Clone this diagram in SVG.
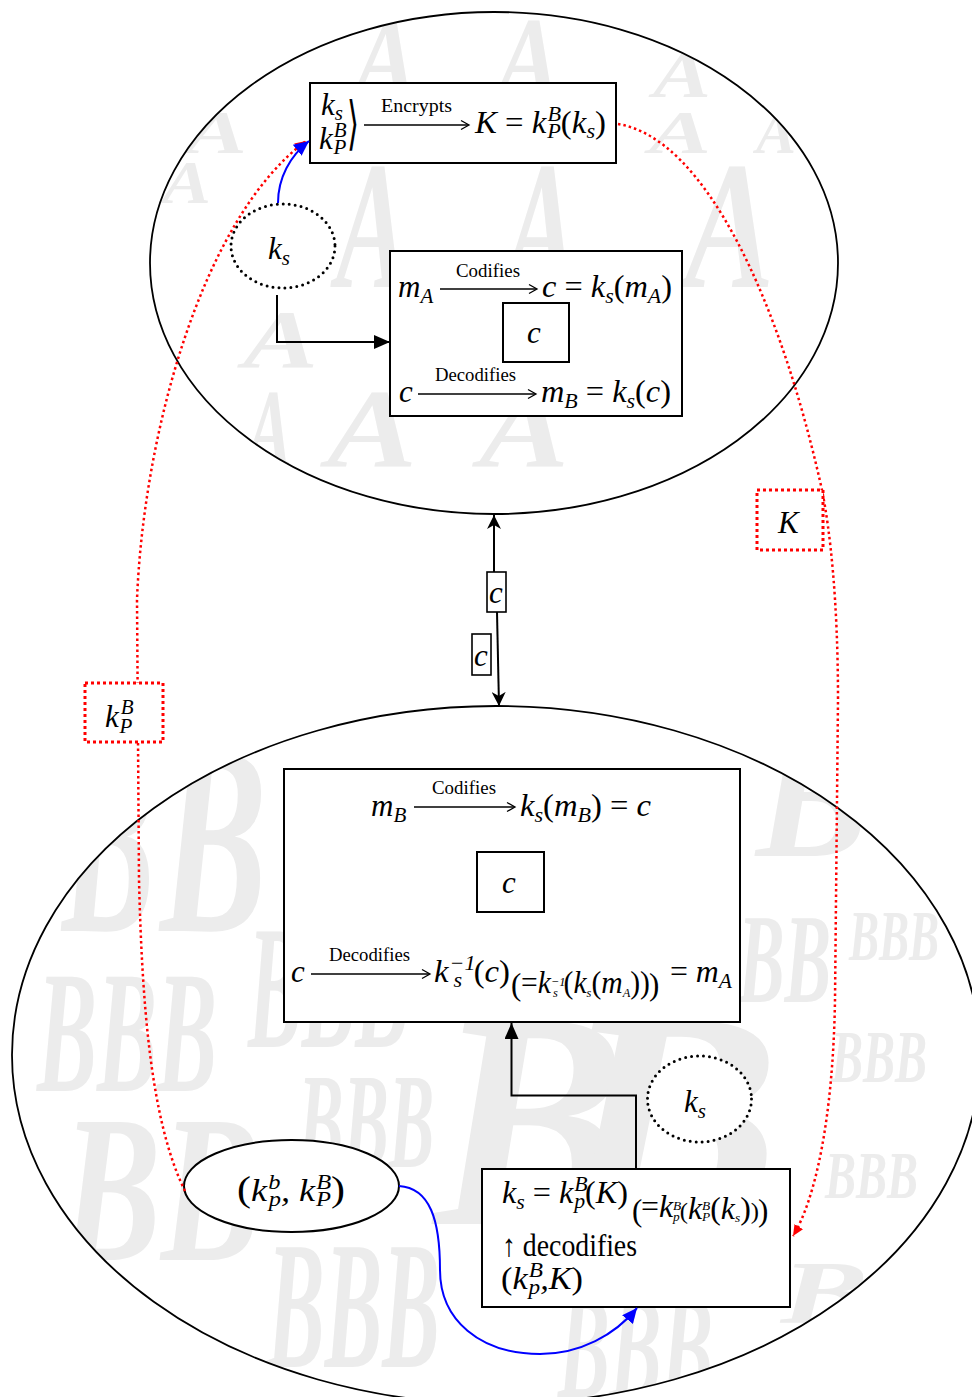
<svg xmlns="http://www.w3.org/2000/svg" width="972" height="1397" viewBox="0 0 972 1397">
<style>
.m{font-family:"Liberation Serif",serif;font-style:italic;font-size:31px;fill:#000}
.u{font-style:normal}
.s{font-size:21px}
.l{font-family:"Liberation Serif",serif;font-size:18px;fill:#000}
.box{fill:#fff;stroke:#000;stroke-width:2}
.ell{fill:none;stroke:#000;stroke-width:1.8}
.dotc{fill:#fff;stroke:#000;stroke-width:3;stroke-dasharray:0 6;stroke-linecap:round}
.red{fill:none;stroke:#f00;stroke-width:2.5;stroke-dasharray:2.5 3}
.redbox{fill:#fff;stroke:#f00;stroke-width:3;stroke-dasharray:3 3}
.wm{font-family:"Liberation Serif",serif;font-weight:bold;font-style:italic;fill:#ececec}
.thin{fill:none;stroke:#000;stroke-width:1.3}
.con{fill:none;stroke:#000;stroke-width:2}
.blue{fill:none;stroke:#00f;stroke-width:2}
</style>
<defs>
<clipPath id="clipTop"><ellipse cx="494" cy="263" rx="344" ry="251"/></clipPath>
<clipPath id="clipBot"><ellipse cx="496" cy="1055" rx="484" ry="349"/></clipPath>
<marker id="aBlk" markerWidth="16" markerHeight="14" refX="16" refY="7" orient="auto" markerUnits="userSpaceOnUse"><path d="M0,0 L16,7 L0,14 z" fill="#000"/></marker>
<marker id="aC" markerWidth="14" markerHeight="14" refX="14" refY="7" orient="auto" markerUnits="userSpaceOnUse"><path d="M0,0 L14,7 L0,14 L4,7 z" fill="#000"/></marker>
<marker id="aBlue" markerWidth="15" markerHeight="14" refX="15" refY="7" orient="auto" markerUnits="userSpaceOnUse"><path d="M0,0 L15,7 L0,14 z" fill="#00f"/></marker>
<marker id="aRed" markerWidth="11" markerHeight="10" refX="11" refY="5" orient="auto" markerUnits="userSpaceOnUse"><path d="M0,0 L11,5 L0,10 z" fill="#f00"/></marker>
</defs>
<rect width="972" height="1397" fill="#fff"/>

<g id="watermark-top" clip-path="url(#clipTop)">
<text class="wm" x="354" y="97" font-size="117" textLength="63" lengthAdjust="spacingAndGlyphs">A</text>
<text class="wm" x="497" y="97" font-size="117" textLength="63" lengthAdjust="spacingAndGlyphs">A</text>
<text class="wm" x="653" y="97" font-size="67" textLength="58" lengthAdjust="spacingAndGlyphs">A</text>
<text class="wm" x="185" y="153" font-size="61" textLength="62" lengthAdjust="spacingAndGlyphs">A</text>
<text class="wm" x="649" y="153" font-size="61" textLength="62" lengthAdjust="spacingAndGlyphs">A</text>
<text class="wm" x="756" y="153" font-size="61" textLength="40" lengthAdjust="spacingAndGlyphs">A</text>
<text class="wm" x="162" y="203" font-size="61" textLength="49" lengthAdjust="spacingAndGlyphs">A</text>
<text class="wm" x="336" y="287" font-size="182" textLength="72" lengthAdjust="spacingAndGlyphs">A</text>
<text class="wm" x="506" y="287" font-size="182" textLength="71" lengthAdjust="spacingAndGlyphs">A</text>
<text class="wm" x="685" y="287" font-size="182" textLength="89" lengthAdjust="spacingAndGlyphs">A</text>
<text class="wm" x="243" y="367" font-size="82" textLength="75" lengthAdjust="spacingAndGlyphs">A</text>
<text class="wm" x="247" y="467" font-size="112" textLength="45" lengthAdjust="spacingAndGlyphs">A</text>
<text class="wm" x="327" y="467" font-size="112" textLength="90" lengthAdjust="spacingAndGlyphs">A</text>
<text class="wm" x="479" y="467" font-size="112" textLength="90" lengthAdjust="spacingAndGlyphs">A</text>
</g>

<g id="watermark-bottom" clip-path="url(#clipBot)">
<text class="wm" x="62" y="931" font-size="270" textLength="93" lengthAdjust="spacingAndGlyphs">B</text>
<text class="wm" x="160" y="931" font-size="270" textLength="107" lengthAdjust="spacingAndGlyphs">B</text>
<text class="wm" x="756" y="856" font-size="170" textLength="112" lengthAdjust="spacingAndGlyphs">B</text>
<text class="wm" x="849" y="960" font-size="72" textLength="90" lengthAdjust="spacingAndGlyphs">BBB</text>
<text class="wm" x="738" y="1002" font-size="127" textLength="93" lengthAdjust="spacingAndGlyphs">BB</text>
<text class="wm" x="37" y="1091" font-size="174" textLength="180" lengthAdjust="spacingAndGlyphs">BBB</text>
<text class="wm" x="248" y="1047" font-size="176" textLength="161" lengthAdjust="spacingAndGlyphs">BBB</text>
<text class="wm" x="831" y="1082" font-size="74" textLength="96" lengthAdjust="spacingAndGlyphs">BBB</text>
<text class="wm" x="434" y="1224" font-size="309" textLength="192" lengthAdjust="spacingAndGlyphs">B</text>
<text class="wm" x="558" y="1211" font-size="290" textLength="223" lengthAdjust="spacingAndGlyphs">B</text>
<text class="wm" x="298" y="1167" font-size="135" textLength="136" lengthAdjust="spacingAndGlyphs">BBB</text>
<text class="wm" x="62" y="1260" font-size="209" textLength="198" lengthAdjust="spacingAndGlyphs">BB</text>
<text class="wm" x="825" y="1198" font-size="68" textLength="93" lengthAdjust="spacingAndGlyphs">BBB</text>
<text class="wm" x="267" y="1367" font-size="182" textLength="173" lengthAdjust="spacingAndGlyphs">BBB</text>
<text class="wm" x="558" y="1397" font-size="147" textLength="155" lengthAdjust="spacingAndGlyphs">BBB</text>
<text class="wm" x="781" y="1322" font-size="88" textLength="87" lengthAdjust="spacingAndGlyphs">B</text>
</g>

<g id="party-A">
<ellipse class="ell" cx="494" cy="263" rx="344" ry="251"/>
</g>
<g id="party-B">
<ellipse class="ell" cx="496" cy="1055" rx="484" ry="349"/>
</g>

<g id="node-encrypt">
<rect class="box" x="310" y="83" width="306" height="80"/>
<text class="m" x="321" y="115">k<tspan class="s" dy="5">s</tspan></text>
<text class="m" x="319" y="149">k<tspan class="s" dx="1" dy="-12">B</tspan><tspan class="s" dx="-13" dy="17">P</tspan></text>
<text x="347" y="143" font-family="DejaVu Sans" font-size="58" textLength="12" lengthAdjust="spacingAndGlyphs">⟩</text>
<line class="thin" x1="364" y1="125" x2="468" y2="125"/>
<path class="thin" d="M461,120.5 L469,125 L461,129.5"/>
<text class="l" x="381" y="112" textLength="71" lengthAdjust="spacingAndGlyphs">Encrypts</text>
<text class="m" x="475" y="133" textLength="131" lengthAdjust="spacingAndGlyphs">K <tspan class="u">=</tspan> k<tspan class="s" dx="1" dy="-12">B</tspan><tspan class="s" dx="-13" dy="17">P</tspan><tspan class="u" dy="-5">(</tspan>k<tspan class="s" dy="5">s</tspan><tspan class="u" dy="-5">)</tspan></text>
</g>

<g id="node-ks-A">
<ellipse class="dotc" cx="283" cy="246" rx="52" ry="42"/>
<text class="m" x="268" y="259" font-size="36">k<tspan class="s" font-size="24" dy="6">s</tspan></text>
</g>

<g id="node-codify-A">
<rect class="box" x="390" y="251" width="292" height="165"/>
<text class="m" x="398" y="297">m<tspan class="s" dy="6">A</tspan></text>
<line class="thin" x1="440" y1="289" x2="536" y2="289"/>
<path class="thin" d="M529,284.5 L537,289 L529,293.5"/>
<text class="l" x="456" y="277" textLength="64" lengthAdjust="spacingAndGlyphs">Codifies</text>
<text class="m" x="542" y="297" textLength="130" lengthAdjust="spacingAndGlyphs">c <tspan class="u">=</tspan> k<tspan class="s" dy="6">s</tspan><tspan class="u" dy="-6">(</tspan>m<tspan class="s" dy="6">A</tspan><tspan class="u" dy="-6">)</tspan></text>
<rect class="box" x="503" y="303" width="66" height="59"/>
<text class="m" x="527" y="343">c</text>
<text class="l" x="435" y="381" textLength="81" lengthAdjust="spacingAndGlyphs">Decodifies</text>
<text class="m" x="399" y="402">c</text>
<line class="thin" x1="418" y1="394" x2="535" y2="394"/>
<path class="thin" d="M528,389.5 L536,394 L528,398.5"/>
<text class="m" x="541" y="402" textLength="130" lengthAdjust="spacingAndGlyphs">m<tspan class="s" dy="6">B</tspan><tspan dy="-6"> </tspan><tspan class="u">=</tspan> k<tspan class="s" dy="6">s</tspan><tspan class="u" dy="-6">(</tspan>c<tspan class="u">)</tspan></text>
</g>

<g id="node-codify-B">
<rect class="box" x="284" y="769" width="456" height="253"/>
<text class="l" x="432" y="794" textLength="64" lengthAdjust="spacingAndGlyphs">Codifies</text>
<text class="m" x="371" y="816">m<tspan class="s" dy="6">B</tspan></text>
<line class="thin" x1="414" y1="807" x2="514" y2="807"/>
<path class="thin" d="M507,802.5 L515,807 L507,811.5"/>
<text class="m" x="520" y="816" textLength="131" lengthAdjust="spacingAndGlyphs">k<tspan class="s" dy="6">s</tspan><tspan class="u" dy="-6">(</tspan>m<tspan class="s" dy="6">B</tspan><tspan class="u" dy="-6">) = </tspan>c</text>
<rect class="box" x="477" y="852" width="67" height="60"/>
<text class="m" x="502" y="893">c</text>
<text class="l" x="329" y="961" textLength="81" lengthAdjust="spacingAndGlyphs">Decodifies</text>
<text class="m" x="291" y="982">c</text>
<line class="thin" x1="311" y1="974" x2="429" y2="974"/>
<path class="thin" d="M422,969.5 L430,974 L422,978.5"/>
<text class="m" x="434" y="982" textLength="76" lengthAdjust="spacingAndGlyphs">k<tspan class="s" dx="1" dy="-12">−1</tspan><tspan class="s" dx="-21" dy="17">s</tspan><tspan class="u" dx="11" dy="-5">(</tspan>c<tspan class="u">)</tspan></text>
<text class="m u" x="511" y="995" font-size="38">(</text>
<text class="m" x="521" y="993" font-size="19" textLength="129" lengthAdjust="spacingAndGlyphs"><tspan class="u">=</tspan>k<tspan font-size="13" dy="-7">−1</tspan><tspan font-size="13" dx="-13" dy="11">s</tspan><tspan class="u" dx="6" dy="-4">(</tspan>k<tspan font-size="13" dy="4">s</tspan><tspan class="u" dy="-4">(</tspan>m<tspan font-size="13" dy="4">A</tspan><tspan class="u" dy="-4">))</tspan></text>
<text class="m u" x="649" y="995" font-size="38">)</text>
<text class="m" x="670" y="982" textLength="62" lengthAdjust="spacingAndGlyphs"><tspan class="u">=</tspan> m<tspan class="s" dy="6">A</tspan></text>
</g>

<g id="node-ks-B">
<ellipse class="dotc" cx="699.5" cy="1099" rx="52" ry="43"/>
<text class="m" x="684" y="1112" font-size="36">k<tspan class="s" font-size="24" dy="6">s</tspan></text>
</g>

<g id="node-keys-B">
<ellipse cx="291.5" cy="1186" rx="107.5" ry="46" fill="#fff" stroke="#000" stroke-width="2"/>
<text class="m" x="237" y="1201" textLength="108" lengthAdjust="spacingAndGlyphs"><tspan class="u" font-size="36">(</tspan>k<tspan class="s" dx="1" dy="-12">b</tspan><tspan class="s" dx="-10" dy="17">p</tspan><tspan dy="-5">, k</tspan><tspan class="s" dx="1" dy="-12">B</tspan><tspan class="s" dx="-13" dy="17">P</tspan><tspan class="u" font-size="36" dy="-5">)</tspan></text>
</g>

<g id="node-decrypt-B">
<rect class="box" x="482" y="1169" width="308" height="138"/>
<text class="m" x="502" y="1203" textLength="126" lengthAdjust="spacingAndGlyphs">k<tspan class="s" dy="6">s</tspan><tspan dy="-6"> </tspan><tspan class="u">=</tspan> k<tspan class="s" dx="1" dy="-12">B</tspan><tspan class="s" dx="-13" dy="17">p</tspan><tspan class="u" dy="-5">(</tspan>K<tspan class="u">)</tspan></text>
<text class="m u" x="632" y="1221" font-size="40">(</text>
<text class="m" x="641" y="1217" font-size="18" textLength="118" lengthAdjust="spacingAndGlyphs"><tspan class="u">=</tspan>k<tspan font-size="13" dy="-7">B</tspan><tspan font-size="13" dx="-8" dy="11">p</tspan><tspan class="u" font-size="24" dy="-2">(</tspan>k<tspan font-size="13" dy="-9">B</tspan><tspan font-size="13" dx="-8" dy="11">P</tspan><tspan class="u" dy="-2">(</tspan>k<tspan font-size="13" dy="3">s</tspan><tspan class="u" dy="-3">)</tspan><tspan class="u" font-size="24">)</tspan></text>
<text class="m u" x="758" y="1221" font-size="40">)</text>
<text class="m u" x="502" y="1256" font-size="29" textLength="135" lengthAdjust="spacingAndGlyphs">↑ decodifies</text>
<text class="m" x="501" y="1289" textLength="82" lengthAdjust="spacingAndGlyphs"><tspan class="u">(</tspan>k<tspan class="s" dx="1" dy="-12">B</tspan><tspan class="s" dx="-13" dy="17">p</tspan><tspan dy="-5">,K</tspan><tspan class="u">)</tspan></text>
</g>

<g id="connectors">
<path class="con" d="M277,295 V342 H390" marker-end="url(#aBlk)"/>
<path class="con" d="M636,1169 V1095.5 H511.5 V1023" marker-end="url(#aBlk)"/>
<path class="con" d="M494,572 L494,515" marker-end="url(#aC)"/>
<path class="con" d="M497,612 L499,706" marker-end="url(#aC)"/>
<path class="red" d="M618,124 C705,138 780,300 822,490 C830,530 838,600 838,700 L835,1000 C833,1120 815,1200 793,1236" marker-end="url(#aRed)"/>
<path class="red" d="M185,1191 C150,1120 142,1000 139,880 L137,600 C143,440 200,220 306,141" marker-end="url(#aRed)"/>
<path class="blue" d="M278,203 C278,178 290,156 309,141" marker-end="url(#aBlue)"/>
<path class="blue" d="M399,1186 C430,1188 440,1220 440,1270 C440,1320 480,1354 540,1354 C580,1354 615,1335 637,1308" marker-end="url(#aBlue)"/>
</g>

<g id="label-c1">
<rect x="487" y="572" width="19" height="40" fill="#fff" stroke="#000" stroke-width="1.6"/>
<text class="m" x="489" y="603" font-size="30">c</text>
</g>
<g id="label-c2">
<rect x="472" y="634" width="19" height="41" fill="#fff" stroke="#000" stroke-width="1.6"/>
<text class="m" x="474" y="666" font-size="30">c</text>
</g>
<g id="label-K">
<rect class="redbox" x="757" y="490" width="66" height="60"/>
<text class="m" x="778" y="533" font-size="32">K</text>
</g>
<g id="label-kPB">
<rect class="redbox" x="85" y="683" width="78" height="59"/>
<text class="m" x="105" y="727" font-size="33">k<tspan class="s" font-size="22" dx="2" dy="-13">B</tspan><tspan class="s" font-size="22" dx="-14" dy="19">P</tspan></text>
</g>
</svg>
